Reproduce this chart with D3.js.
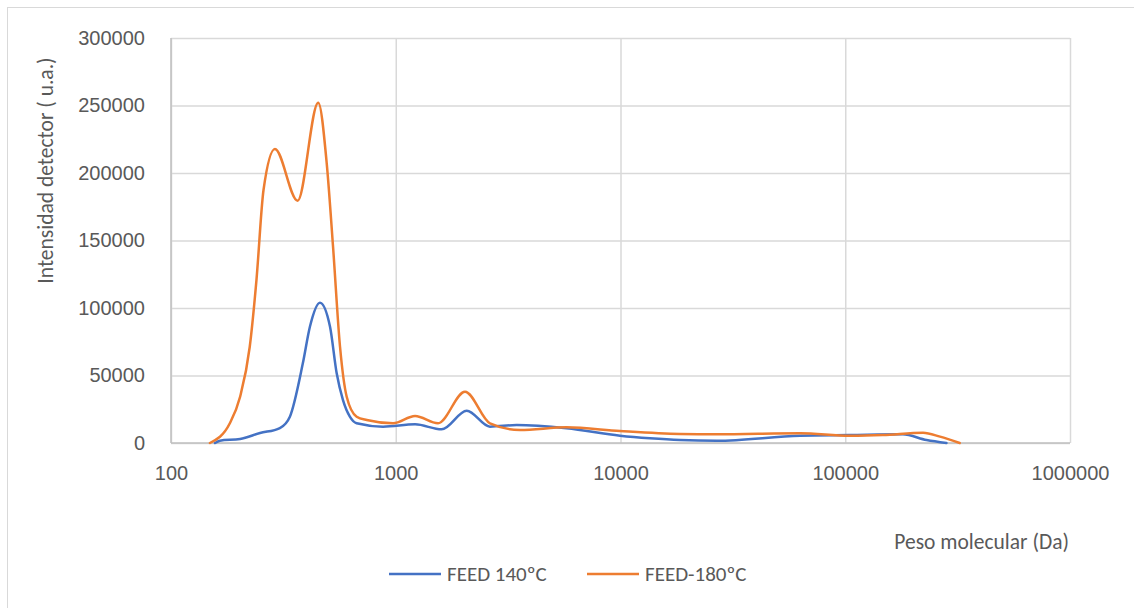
<!DOCTYPE html>
<html>
<head>
<meta charset="utf-8">
<script src="https://cdn.jsdelivr.net/npm/d3@7"></script>
<style>
  html, body { margin: 0; padding: 0; background: #fff; }
  svg { display: block; font-family: Carlito, Lato, "Open Sans", sans-serif; }
</style>
</head>
<body>
<svg id="chart" width="1134" height="608"></svg>
<script>
// Molecular weight distribution (GPC) of two feed samples
const mwFeed140 = [157, 165, 203, 249, 305, 338, 386, 415, 460, 510, 546, 582, 625, 670, 878, 1219, 1600, 2070, 2625, 3452, 5754, 9950, 13520, 18400, 26800, 63000, 105000, 180000, 230000, 282000];
const intensityFeed140 = [0, 1700, 3000, 7400, 11100, 19500, 59000, 86100, 103900, 86100, 51600, 31900, 19500, 14600, 12100, 13800, 10100, 23900, 12100, 13300, 10900, 5400, 3500, 2200, 1700, 5400, 5900, 6400, 2200, 0];

const mwFeed180 = [149, 183, 203, 224, 240, 258, 290, 366, 452, 493, 526, 565, 605, 670, 743, 973, 1219, 1542, 2033, 2625, 3572, 5754, 9950, 18400, 26800, 63000, 105000, 147000, 222000, 264000, 323000];
const intensityFeed180 = [0, 14800, 34300, 71100, 120700, 187400, 217800, 179500, 252100, 207200, 145400, 71300, 34300, 19500, 17000, 14600, 20000, 14600, 38000, 14600, 9600, 11600, 8900, 6700, 6400, 7200, 5400, 5900, 7600, 4700, 0];

const seriesNames = ["FEED 140ºC", "FEED-180ºC"];
const seriesColors = ["#4472C4", "#ED7D31"];
const xTicks = [100, 1000, 10000, 100000, 1000000];
const yTicks = [0, 50000, 100000, 150000, 200000, 250000, 300000];

const series = [
  { name: seriesNames[0], color: seriesColors[0], x: mwFeed140, y: intensityFeed140 },
  { name: seriesNames[1], color: seriesColors[1], x: mwFeed180, y: intensityFeed180 }
];

const svg = d3.select("#chart");
const textColor = "#595959";

// chart frame
svg.append("rect")
  .attr("x", 7.5).attr("y", 7.5)
  .attr("width", 1140).attr("height", 620)
  .attr("fill", "#fff").attr("stroke", "#d9d9d9");

const plot = { left: 171, right: 1070, top: 38, bottom: 443 };

const x = d3.scaleLog().domain([100, 1000000]).range([plot.left, plot.right]);
const y = d3.scaleLinear().domain([0, 300000]).range([plot.bottom, plot.top]);

// horizontal gridlines
svg.append("g")
  .attr("transform", `translate(${plot.left},0)`)
  .call(d3.axisLeft(y).tickValues(yTicks).tickSize(-(plot.right - plot.left)).tickFormat(""))
  .call(g => g.select(".domain").remove())
  .call(g => g.selectAll(".tick line").attr("stroke", "#d9d9d9").attr("stroke-width", 1.5));

// vertical gridlines
svg.append("g")
  .attr("transform", `translate(0,${plot.bottom})`)
  .call(d3.axisBottom(x).tickValues(xTicks).tickSize(-(plot.bottom - plot.top)).tickFormat(""))
  .call(g => g.select(".domain").remove())
  .call(g => g.selectAll(".tick line").attr("stroke", "#d9d9d9").attr("stroke-width", 1.5));

// axis lines
svg.append("line")
  .attr("x1", plot.left).attr("x2", plot.right)
  .attr("y1", plot.bottom).attr("y2", plot.bottom)
  .attr("stroke", "#bfbfbf").attr("stroke-width", 1.5);
svg.append("line")
  .attr("x1", plot.left).attr("x2", plot.left)
  .attr("y1", plot.top).attr("y2", plot.bottom)
  .attr("stroke", "#bfbfbf").attr("stroke-width", 1.5);

// tick labels
svg.append("g")
  .attr("transform", `translate(${plot.left - 23},0)`)
  .call(d3.axisLeft(y).tickValues(yTicks).tickSize(0).tickFormat(d3.format("d")))
  .call(g => g.select(".domain").remove())
  .call(g => g.selectAll("text").attr("fill", textColor).style("font-size", "20px").style("font-family", "inherit"));

svg.append("g")
  .attr("transform", `translate(0,${plot.bottom + 20})`)
  .call(d3.axisBottom(x).tickValues(xTicks).tickSize(0).tickFormat(d3.format("d")))
  .call(g => g.select(".domain").remove())
  .call(g => g.selectAll("text").attr("fill", textColor).style("font-size", "20px").style("font-family", "inherit"));

// axis titles
svg.append("text")
  .attr("transform", "translate(53,170.5) rotate(-90)")
  .attr("text-anchor", "middle")
  .attr("fill", textColor).style("font-size", "21.5px")
  .text("Intensidad detector ( u.a.)");

svg.append("text")
  .attr("x", 1069).attr("y", 549)
  .attr("text-anchor", "end")
  .attr("fill", textColor).style("font-size", "21.5px")
  .text("Peso molecular (Da)");

// curves
const line = d3.line()
  .x(d => x(d[0]))
  .y(d => y(d[1]))
  .curve(d3.curveMonotoneX);

series.forEach(s => {
  svg.append("path")
    .datum(s.x.map((v, i) => [v, s.y[i]]))
    .attr("fill", "none")
    .attr("stroke", s.color)
    .attr("stroke-width", 2.5)
    .attr("stroke-linejoin", "round")
    .attr("stroke-linecap", "round")
    .attr("d", line);
});

// legend
const legendX = [389, 587];
series.forEach((s, i) => {
  const g = svg.append("g").attr("transform", `translate(${legendX[i]},574)`);
  g.append("line").attr("x1", 0).attr("x2", 52).attr("y1", 0).attr("y2", 0)
    .attr("stroke", s.color).attr("stroke-width", 2.5);
  g.append("text").attr("x", 58).attr("y", 7)
    .attr("fill", textColor).style("font-size", "21px")
    .text(s.name);
});
</script>
</body>
</html>
